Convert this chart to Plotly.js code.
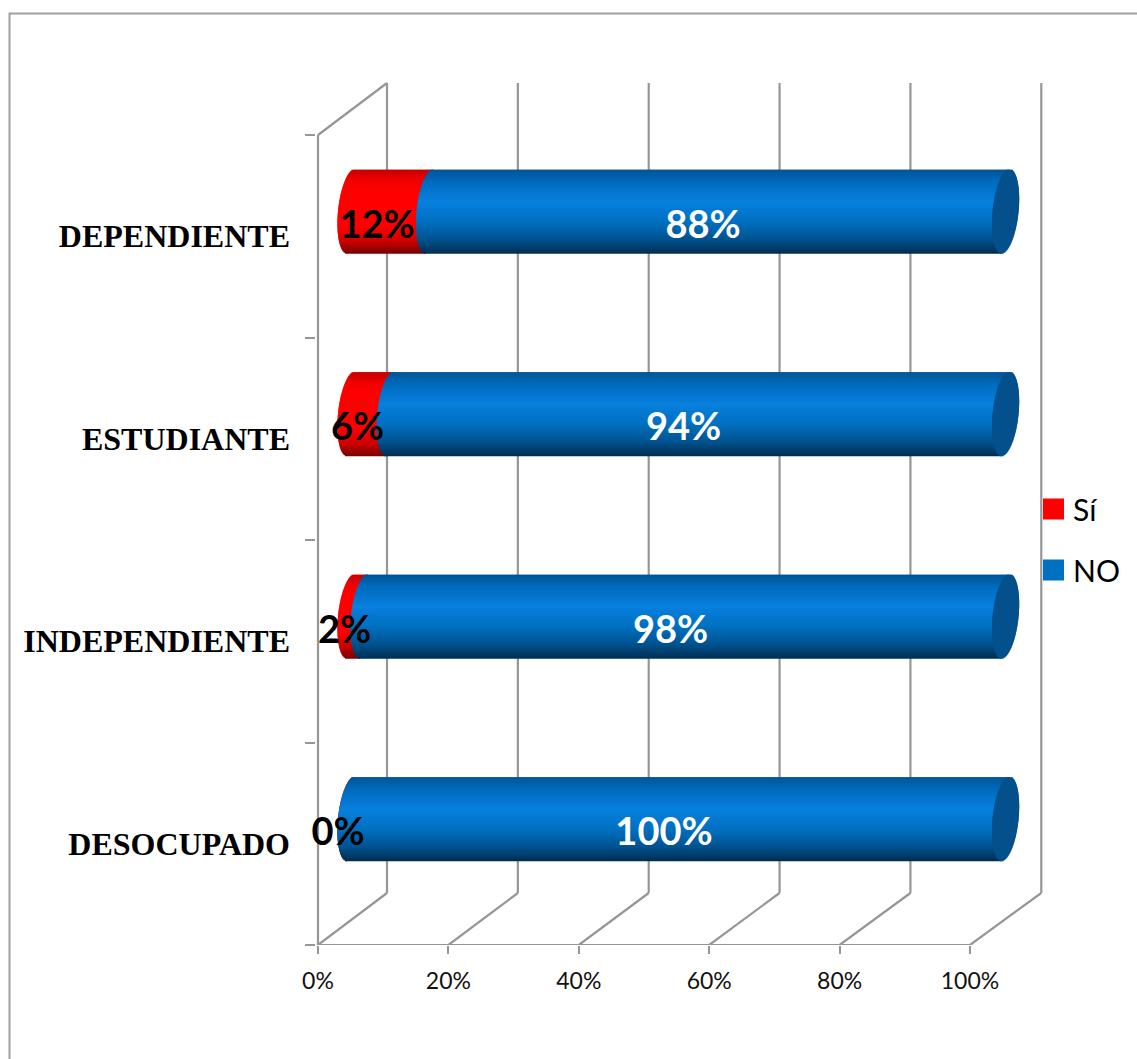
<!DOCTYPE html>
<html><head><meta charset="utf-8">
<script src="https://cdn.plot.ly/plotly-3.0.1.min.js"></script>
<style>html,body{margin:0;padding:0;background:#fff;overflow:hidden}</style>
</head><body><div id="chart" style="width:1137px;height:1059px"></div>
<script>
// DATA
const categories = ['DEPENDIENTE','ESTUDIANTE','INDEPENDIENTE','DESOCUPADO'];
const seriesSi = [12,6,2,0];
const seriesNo = [88,94,98,100];
const xTicks = [0,20,40,60,80,100];
const seriesNames = ['Sí','NO'];

// 3-D look of the chart: all in axis units
const PXX = 6.52, PXY = 202.5;
const depthX = 69/PXX, depthY = 52/PXY, backScale = 1.0035;
const barOrigin = 33/PXX, barScale = 1.004;
const barLift = 24.5/PXY, barH = 84/PXY, rx = 13/PXX, skew = 4/PXX;
const N = 84;
const L=316, R=1043, T=81, B=945;   // plot box, px
const n = categories.length;
const catY = categories.map((c,i)=> n-1-i+0.5);

function lerpStops(stops,t){
  for(let i=1;i<stops.length;i++){
    if(t<=stops[i][0]){
      const a=stops[i-1],b=stops[i],f=(t-a[0])/(b[0]-a[0]);
      const c=[0,1,2].map(k=>Math.round(a[1][k]+(b[1][k]-a[1][k])*f));
      return `rgb(${c.join(',')})`;
    }
  }
  return `rgb(${stops[stops.length-1][1].join(',')})`;
}
const redStops=[[0,[196,0,0]],[0.12,[240,0,0]],[0.25,[255,0,0]],[0.68,[255,0,0]],[0.85,[205,0,0]],[1,[120,0,0]]];
const blueStops=[[0,[0,84,150]],[0.15,[0,108,190]],[0.38,[8,128,222]],[0.62,[0,112,192]],[0.82,[0,84,146]],[1,[0,46,82]]];
const capStops=[[0,[4,80,140]],[1,[4,80,140]]];

const traces=[];
function strips(startFn,endFn,stops){
  for(let k=0;k<N;k++){
    const u=(k+0.5)/N;              // 0 = bottom, 1 = top of the bar
    const t=2*u-1;
    const s=Math.sqrt(1-t*t);
    const base=[],len=[];
    categories.forEach((c,i)=>{
      const b=startFn(i)+skew*t-rx*s;
      const e=endFn(i,t,s);
      base.push(b);len.push(e-b);
    });
    traces.push({type:'bar',orientation:'h',y:catY.map(v=>v+barLift),x:len,base:base,
      width:barH/N*(k<N-1?2:1),offset:-barH/2+k*barH/N,
      marker:{color:lerpStops(stops,1-u),opacity:1,line:{width:0}},showlegend:false,hoverinfo:'skip'});
  }
}
const xAt=v=>barOrigin+v*barScale;
// red part, from the left end up to the start of the blue part
strips(i=>xAt(0), (i,t,s)=>xAt(seriesSi[i])+skew*t, redStops);
// blue part
strips(i=>xAt(seriesSi[i]), (i,t,s)=>xAt(seriesSi[i]+seriesNo[i])+skew*t, blueStops);
// right end cap
strips(i=>xAt(seriesSi[i]+seriesNo[i]), (i,t,s)=>xAt(seriesSi[i]+seriesNo[i])+skew*t+rx*s, capStops);

// labels
const labelDX = 20/PXX, labelDY = 8/PXY;
traces.push({type:'scatter',mode:'text',showlegend:false,hoverinfo:'skip',
  x:seriesSi.map(v=>v/2+labelDX),y:catY.map(v=>v+labelDY),
  text:seriesSi.map(v=>v+'%'),textposition:'middle center',cliponaxis:false,
  textfont:{family:'Lato',size:38,color:'#000',weight:700}});
traces.push({type:'scatter',mode:'text',showlegend:false,hoverinfo:'skip',
  x:seriesNo.map((v,i)=>seriesSi[i]+v/2+labelDX),y:catY.map(v=>v+labelDY),
  text:seriesNo.map(v=>v+'%'),textposition:'middle center',cliponaxis:false,
  textfont:{family:'Lato',size:38,color:'#fff',weight:700}});

// legend entries
traces.push({type:'bar',orientation:'h',name:seriesNames[0],x:[null],y:[null],marker:{color:'#ff0000',opacity:1},legendgroup:'a'});
traces.push({type:'bar',orientation:'h',name:seriesNames[1],x:[null],y:[null],marker:{color:'#0070c0',opacity:1},legendgroup:'b'});

// walls
const GRID={color:'#969696',width:2.2};
const line=(x0,y0,x1,y1)=>({type:'line',xref:'x',yref:'y',x0,y0,x1,y1,line:GRID,layer:'below'});
const shapes=[];
xTicks.forEach(v=>{
  const bx=v*backScale+depthX;
  shapes.push(line(v,0,bx,depthY));
  shapes.push(line(bx,depthY,bx,n+depthY));
});
shapes.push(line(0,0,0,n));
shapes.push(line(0,0,100,0));
shapes.push(line(0,n,depthX,n+depthY));
// outer frame
const W=R-L,H=B-T,px=x=>(x-L)/W,py=y=>(B-y)/H;
shapes.push({type:'path',xref:'paper',yref:'paper',
  path:`M${px(9.5)},${py(1070)}L${px(9.5)},${py(13.5)}L${px(1150)},${py(13.5)}`,
  line:{color:'#a0a0a0',width:2},layer:'below'});

const layout={
  width:1137,height:1059,margin:{l:L,r:1137-R,t:T,b:1059-B,pad:0},
  paper_bgcolor:'#fff',plot_bgcolor:'rgba(0,0,0,0)',barmode:'overlay',showlegend:true,
  font:{family:'Lato',color:'#000'},
  xaxis:{range:[(L-318)/PXX,(R-318)/PXX],tickmode:'array',tickvals:xTicks,ticktext:xTicks.map(v=>v+'%'),
    ticks:'outside',ticklen:8,tickwidth:2,tickcolor:'#969696',showgrid:false,zeroline:false,showline:false,
    tickfont:{family:'Lato',size:23,color:'#111'},ticklabelstandoff:7},
  yaxis:{range:[0,(B-T)/PXY],tickmode:'array',tickvals:catY,ticktext:categories,ticks:'',
    showgrid:false,zeroline:false,showline:false,
    tickfont:{family:'Liberation Serif',size:32,color:'#000',weight:700},ticklabelstandoff:25,
    minor:{tickmode:'array',tickvals:[0,1,2,3,4],ticks:'outside',ticklen:10,tickwidth:2,tickcolor:'#969696',showgrid:false}},
  legend:{x:px(1033),y:py(483),xanchor:'left',yanchor:'top',traceorder:'grouped',tracegroupgap:19,
    font:{family:'Lato',size:30,color:'#000'},bgcolor:'rgba(0,0,0,0)'},
  shapes:shapes
};
Plotly.newPlot('chart',traces,layout,{displayModeBar:false,staticPlot:true}).then(gd=>{
  gd.querySelectorAll('.legend .legendpoints path').forEach(p=>{
    p.setAttribute('transform','translate(20.5,0) scale(1.75)');
  });
});
</script></body></html>
